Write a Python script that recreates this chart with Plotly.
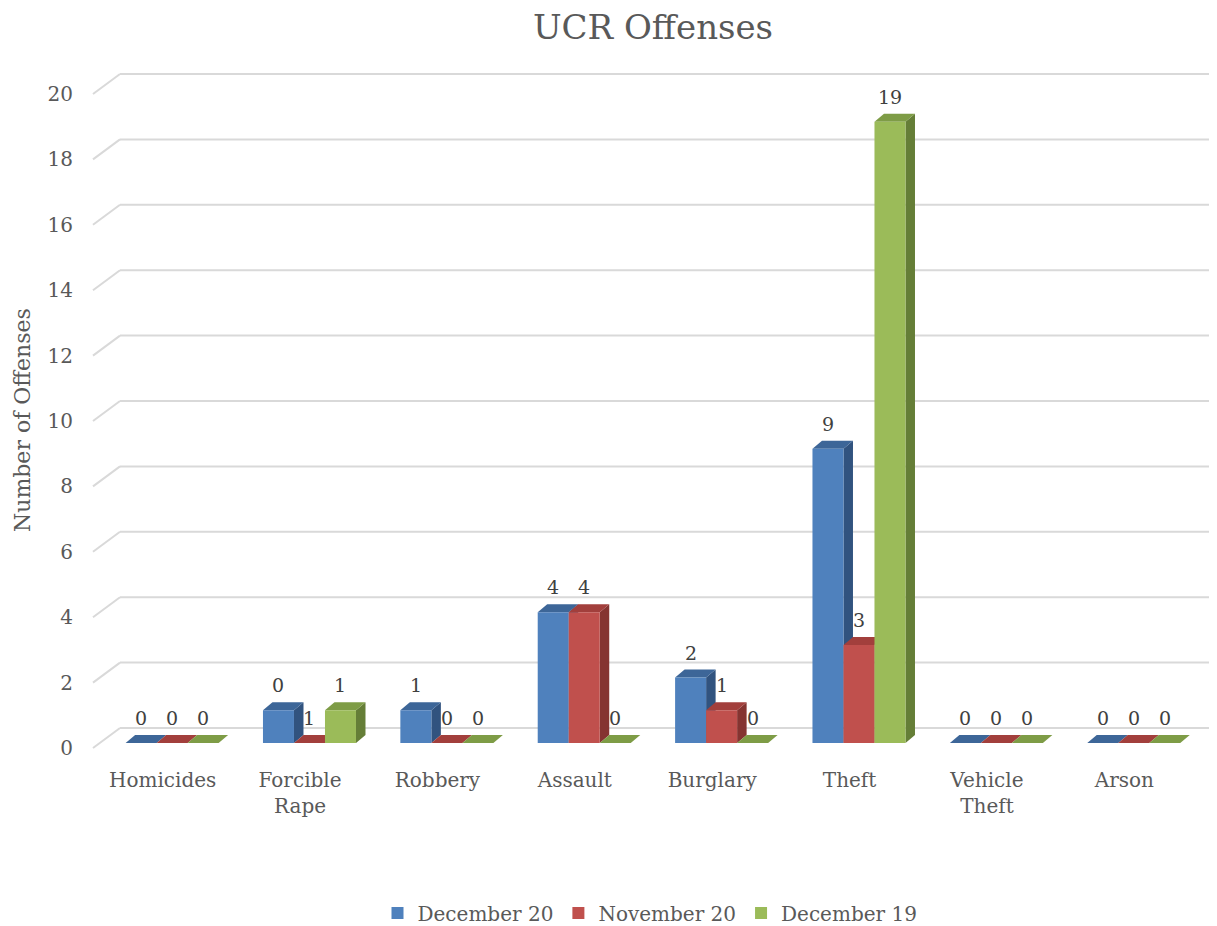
import plotly.graph_objects as go

# ---- data ----
categories = ["Homicides", "Forcible<br>Rape", "Robbery", "Assault", "Burglary",
              "Theft", "Vehicle<br>Theft", "Arson"]
series_names = ["December 20", "November 20", "December 19"]
dec20 = [0, 1, 1, 4, 2, 9, 0, 0]
nov20 = [0, 0, 0, 4, 1, 3, 0, 0]
dec19 = [0, 1, 0, 0, 0, 19, 0, 0]
# data labels as printed in the chart
dec20_labels = ["0", "0", "1", "4", "2", "9", "0", "0"]
nov20_labels = ["0", "1", "0", "4", "1", "3", "0", "0"]
dec19_labels = ["0", "1", "0", "0", "0", "19", "0", "0"]
y_ticks = [0, 2, 4, 6, 8, 10, 12, 14, 16, 18, 20]

# ---- styling ----
OFF = 8  # default page body margin of the html page
W, H = 1217 - OFF, 926 - OFF
ML, MT = 94 - OFF, 89 - OFF
MR = W - (1193 - OFF)
MB = H - (743 - OFF)
PW, PH = W - ML - MR, H - MT - MB
XR = (-0.5, 7.5)
YR = (0, 20)
px_x = PW / (XR[1] - XR[0])
px_y = PH / (YR[1] - YR[0])

front = ["#4F81BD", "#C0504D", "#9BBB59"]
top = ["#3D6698", "#A23F3C", "#7E9C46"]
side = ["#31537F", "#853431", "#657E37"]
bar_w = 0.2257
offsets = [-0.27, -0.0443, 0.1814]
DX, DY = 9.5, 8  # depth in pixels
dyu = DY / px_y
txt = "#595959"
FONT = "DejaVu Serif"

values = [dec20, nov20, dec19]
labels = [dec20_labels, nov20_labels, dec19_labels]
xs = list(range(len(categories)))

fig = go.Figure()
for s in range(3):
    fig.add_trace(go.Bar(
        x=xs, y=values[s], name=series_names[s], width=bar_w, offset=offsets[s],
        marker=dict(color=front[s], line=dict(width=0)), hoverinfo="y"))

shapes = []
# back-wall gridlines with slanted left return (paper refs so they are not clipped)
for t in y_ticks:
    yp = (t - YR[0]) / (YR[1] - YR[0])
    shapes.append(dict(type="line", xref="paper", yref="paper", xsizemode="pixel", xanchor=0,
                       ysizemode="pixel", yanchor=yp, x0=-1, y0=-5, x1=26, y1=15,
                       line=dict(color="#D9D9D9", width=2), layer="below"))
    shapes.append(dict(type="line", xref="paper", yref="paper", xsizemode="pixel", xanchor=0,
                       ysizemode="pixel", yanchor=yp, x0=26, y0=15, x1=W, y1=15,
                       line=dict(color="#D9D9D9", width=2), layer="below"))

wpx = bar_w * px_x
for s in range(3):
    for i, v in enumerate(values[s]):
        left = i + offsets[s]
        if v > 0:
            shapes.append(dict(type="path", xref="x", yref="y", xsizemode="pixel", xanchor=left,
                               path=f"M{wpx:.2f},0 L{wpx+DX:.2f},{dyu:.4f} L{wpx+DX:.2f},{v+dyu:.4f} L{wpx:.2f},{v} Z",
                               fillcolor=side[s], line=dict(width=0), layer="below"))
        shapes.append(dict(type="path", xref="x", yref="y", xsizemode="pixel", xanchor=left,
                           path=f"M0,{v} L{wpx:.2f},{v} L{wpx+DX:.2f},{v+dyu:.4f} L{DX:.2f},{v+dyu:.4f} Z",
                           fillcolor=top[s], line=dict(width=0), layer="below"))

annotations = []
for s in range(3):
    for i, v in enumerate(values[s]):
        annotations.append(dict(x=i + offsets[s] + bar_w / 2, y=v, xref="x", yref="y",
                                text=labels[s][i], showarrow=False, yshift=25,
                                xanchor="center", yanchor="middle",
                                font=dict(family=FONT, size=19, color="#404040")))
annotations.append(dict(text="Number of Offenses", textangle=-90, xref="paper", yref="paper",
                        x=(22 - OFF - ML) / PW, y=(MT + PH - (420 - OFF)) / PH, showarrow=False,
                        xanchor="center", yanchor="middle",
                        font=dict(family=FONT, size=22, color=txt)))

fig.update_layout(
    template=None,
    width=W, height=H,
    margin=dict(l=ML, r=MR, t=MT, b=MB, autoexpand=False),
    plot_bgcolor="white", paper_bgcolor="white",
    barmode="overlay",
    title=dict(text="UCR Offenses", x=(653 - OFF) / W, xref="container", xanchor="center",
               y=1 - (27 - OFF) / H, yanchor="middle", font=dict(family=FONT, size=34, color=txt)),
    xaxis=dict(range=list(XR), tickvals=xs, ticktext=categories, showgrid=False,
               zeroline=False, showline=False, ticks="outside", ticklen=19, automargin=False,
               tickcolor="rgba(0,0,0,0)", tickfont=dict(family=FONT, size=20, color=txt)),
    yaxis=dict(range=list(YR), tickvals=y_ticks, showgrid=False, zeroline=False,
               showline=False, ticks="outside", ticklen=16, tickcolor="rgba(0,0,0,0)",
               ticklabelshift=5,
               automargin=False, tickfont=dict(family=FONT, size=20, color=txt)),
    legend=dict(orientation="h", x=(650 - OFF) / W, xref="container", xanchor="center",
                y=1 - (913 - OFF) / H, yref="container", yanchor="middle",
                font=dict(family=FONT, size=20, color=txt), traceorder="normal",
                bgcolor="rgba(0,0,0,0)"),
    shapes=shapes, annotations=annotations, showlegend=True,
)

fig.write_html("out.html")
